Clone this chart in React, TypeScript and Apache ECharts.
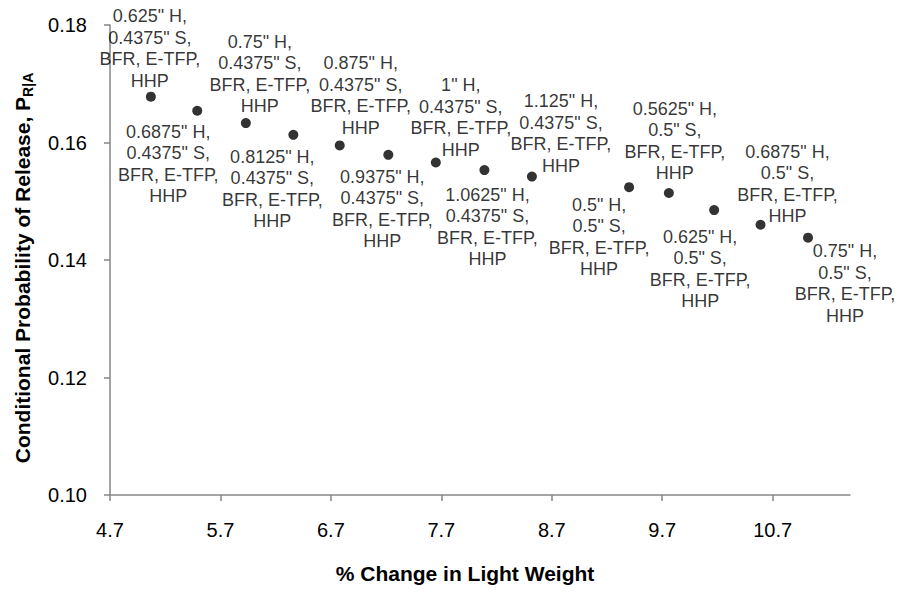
import React, { useEffect, useRef } from "react";
import * as echarts from "echarts";

// ---- data ----
const pctChangeLightWeight = [5.07, 5.49, 5.93, 6.36, 6.78, 7.22, 7.65, 8.09, 8.52, 9.40, 9.76, 10.17, 10.59, 11.02];
const probRelease = [0.1678, 0.1654, 0.1633, 0.1613, 0.1595, 0.1579, 0.1566, 0.1553, 0.1542, 0.1524, 0.1514, 0.1485, 0.1460, 0.1438];
const holeSize = ["0.625", "0.6875", "0.75", "0.8125", "0.875", "0.9375", "1", "1.0625", "1.125", "0.5", "0.5625", "0.625", "0.6875", "0.75"];
const spacing = ["0.4375", "0.4375", "0.4375", "0.4375", "0.4375", "0.4375", "0.4375", "0.4375", "0.4375", "0.5", "0.5", "0.5", "0.5", "0.5"];
const xTicks = [4.7, 5.7, 6.7, 7.7, 8.7, 9.7, 10.7];
const yTicks = [0.1, 0.12, 0.14, 0.16, 0.18];

// ---- label placement (style) ----
const labelOffsets: [number, number][] = [
  [-1, -48], [-29, 53], [14, -49], [-21, 54], [21, -50], [-6, 54], [25, -45],
  [3, 57], [29, -43], [-30, 50], [6, -52], [-14, 59], [27, -41], [37, 46],
];

const FONT = "'Liberation Sans', Arial, sans-serif";

export default function App() {
  const ref = useRef<HTMLDivElement>(null);
  useEffect(() => {
    document.body.style.margin = "0";
    if (!ref.current) return;
    const chart = echarts.init(ref.current, null, { renderer: "svg" });
    const data = pctChangeLightWeight.map((x, i) => ({
      value: [x, probRelease[i]],
      label: {
        formatter: `${holeSize[i]}" H,\n${spacing[i]}" S,\nBFR, E-TFP,\nHHP`,
      },
    }));
    chart.setOption({
      animation: false,
      backgroundColor: "#ffffff",
      textStyle: { fontFamily: FONT },
      grid: { left: 110, right: 47, top: 25, bottom: 98, containLabel: false },
      xAxis: {
        type: "value",
        min: 4.7,
        max: 11.4,
        name: "% Change in Light Weight",
        nameLocation: "middle",
        nameGap: 68,
        nameTextStyle: { fontFamily: FONT, fontSize: 21, fontWeight: "bold", color: "#000", padding: [0, 30, 0, 0] },
        axisLine: { show: true, lineStyle: { color: "#868686", width: 1.5 } },
        axisTick: { show: true, length: 6, lineStyle: { color: "#868686", width: 1.5 }, customValues: xTicks },
        axisLabel: {
          customValues: xTicks,
          formatter: (v: number) => v.toFixed(1),
          fontFamily: FONT,
          fontSize: 20,
          color: "#000",
          margin: 25,
        },
        splitLine: { show: false },
      },
      yAxis: {
        type: "value",
        min: 0.1,
        max: 0.18,
        interval: 0.02,
        name: "Conditional Probability of Release, P{sub|R|A}",
        nameLocation: "middle",
        nameGap: 75,
        nameTextStyle: {
          fontFamily: FONT,
          fontSize: 21,
          fontWeight: "bold",
          color: "#000",
          padding: [0, 16, 0, 0],
          rich: {
            sub: { fontFamily: FONT, fontSize: 14, fontWeight: "bold", color: "#000", padding: [12, 0, 0, 0] },
          },
        },
        axisLine: { show: true, lineStyle: { color: "#868686", width: 1.5 } },
        axisTick: { show: true, length: 6, lineStyle: { color: "#868686", width: 1.5 } },
        axisLabel: {
          formatter: (v: number) => v.toFixed(2),
          fontFamily: FONT,
          fontSize: 20,
          color: "#000",
          margin: 23,
          customValues: yTicks,
        },
        splitLine: { show: false },
      },
      series: [
        {
          type: "scatter",
          symbol: "circle",
          symbolSize: 10,
          itemStyle: { color: "#000" },
          data,
          label: {
            show: true,
            position: "inside",
            align: "center",
            verticalAlign: "middle",
            fontFamily: FONT,
            fontSize: 18,
            lineHeight: 21.5,
            color: "#000",
          },
          labelLayout: (params: any) => {
            const o = labelOffsets[params.dataIndex] || [0, 0];
            return { dx: o[0], dy: o[1], hideOverlap: false, moveOverlap: false };
          },
        },
      ],
    });
    return () => chart.dispose();
  }, []);
  return <div ref={ref} style={{ width: 897, height: 593 }} />;
}
